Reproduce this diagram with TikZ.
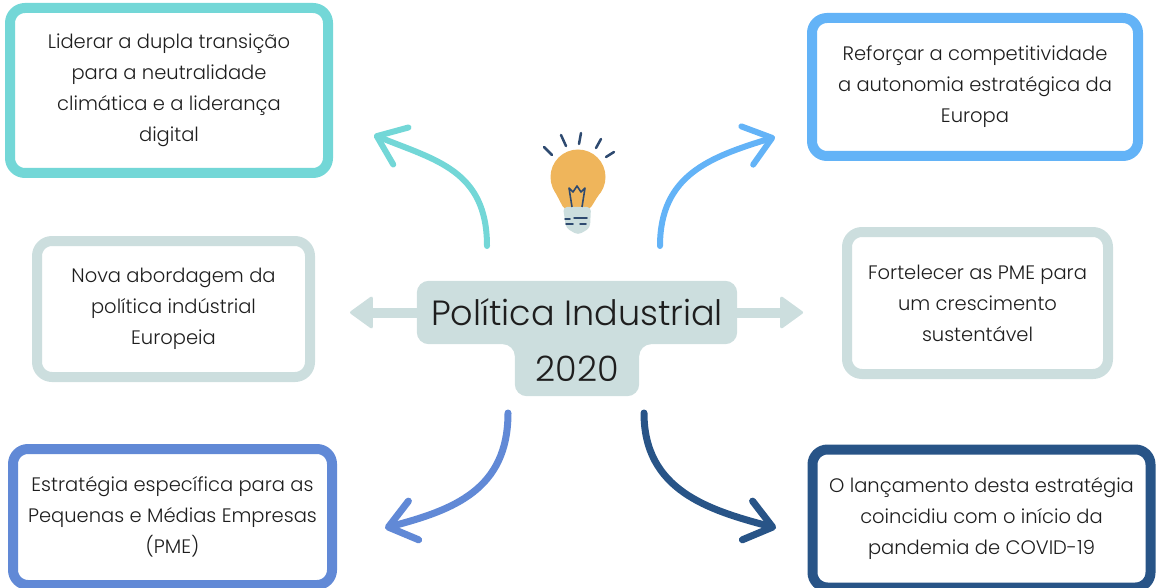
\documentclass[tikz,border=0pt]{standalone}
\usepackage{fontspec}
\setmainfont{Poppins Light}
\usetikzlibrary{arrows.meta,backgrounds}
\definecolor{tealc}{HTML}{73D7D7}
\definecolor{skyc}{HTML}{63B3F7}
\definecolor{grayc}{HTML}{CCDEDE}
\definecolor{midc}{HTML}{6189D6}
\definecolor{navyc}{HTML}{285487}
\definecolor{bulbc}{HTML}{EFB55B}
\definecolor{rayc}{HTML}{2E4A70}
\definecolor{inkc}{HTML}{1E1E1E}
\begin{document}
\begin{tikzpicture}[x=1pt,y=-1pt,
  card/.style={draw,line width=10pt,rounded corners=15pt,fill=white,align=center,
    text=inkc,inner sep=0pt,font=\fontsize{19.5}{31}\selectfont},
  hubtext/.style={align=center,text=inkc,inner sep=0pt,font=\fontsize{35}{55}\selectfont},
  curvy/.style={line width=6pt,line cap=round,
    -{Straight Barb[length=26pt,width=40pt,round]}},
  flat/.style={grayc,line width=10pt,
    -{Triangle[length=24pt,width=34pt,round,line width=3pt]}}]
\useasboundingbox (0,0) rectangle (1156,588);
% centre
\node[hubtext,minimum width=320pt,minimum height=63pt] (hub) at (577,312.5) {Política Industrial};
\node[hubtext,minimum width=124pt,minimum height=54pt] (year) at (577,369) {2020};
\begin{scope}[on background layer]
\fill[grayc,rounded corners=12pt] (hub.north west) -- (hub.north east) -- (hub.south east)
  -- (hub.south -| year.east) -- (year.south east) -- (year.south west)
  -- (hub.south -| year.west) -- (hub.south west) -- cycle;
\end{scope}
% boxes
\node[card,draw=tealc,minimum width=318pt,minimum height=165pt] (lead) at (169,90.5)
  {Liderar a dupla transição\\para a neutralidade\\climática e a liderança\\digital};
\node[card,draw=skyc,minimum width=326pt,minimum height=138pt] (compete) at (975,87)
  {Reforçar a competitividade\\a autonomia estratégica da\\Europa};
\node[card,draw=grayc,minimum width=273pt,minimum height=136pt] (approach) at (173.5,309)
  {Nova abordagem da\\política indústrial\\Europeia};
\node[card,draw=grayc,minimum width=261pt,minimum height=142pt] (smes) at (977.5,303)
  {Fortelecer as PME para\\um crescimento\\sustentável};
\node[card,draw=midc,minimum width=319pt,minimum height=136pt] (strategy) at (172.5,517)
  {Estratégia específica para as\\Pequenas e Médias Empresas\\(PME)};
\node[card,draw=navyc,minimum width=338pt,minimum height=138pt] (launch) at (981.5,518.5)
  {O lançamento desta estratégia\\coincidiu com o início da\\pandemia de COVID-19};
% straight arrows
\coordinate (lTip) at (350,312.5);
\coordinate (rTip) at (803,312.5);
\draw[flat] (hub.west) -- (lTip);
\draw[flat] (hub.east) -- (rTip);
% curved arrows
\coordinate (tlFoot) at (487,246);
\coordinate (tlHead) at (374,135);
\coordinate (trFoot) at (660,246);
\coordinate (trHead) at (775,137);
\coordinate (blFoot) at (508,413);
\coordinate (blHead) at (385,528);
\coordinate (brFoot) at (644,413);
\coordinate (brHead) at (776,528);
\draw[curvy,tealc] (tlFoot) .. controls (487,170) and (435,160) .. (tlHead);
\draw[curvy,skyc] (trFoot) .. controls (660,175) and (710,157) .. (trHead);
\draw[curvy,midc,line width=7pt] (blFoot) .. controls (508,490) and (453,510) .. (blHead);
\draw[curvy,navyc,line width=7pt] (brFoot) .. controls (644,490) and (708,510) .. (brHead);
% bulb
\draw[rayc,line width=2.5pt,line cap=round] (544,147) -- (552,155) (561,135) -- (566,146)
  (581,133) -- (579,144) (601,139) -- (596,148) (614,152) -- (606,157);
\fill[bulbc] (578,177) circle[radius=27.5pt];
\fill[bulbc,rounded corners=3pt] (552,186) -- (604,186) -- (590,209) -- (564,209) -- cycle;
\fill[grayc,rounded corners=4pt] (563,207) -- (591,207) -- (590,228) -- (578,235) -- (566,228) -- cycle;
\draw[rayc,line width=1.6pt,line join=round] (572,207) -- (569,188) -- (573,192) -- (577,186)
  -- (581,192) -- (585,188) -- (582,207);
\draw[rayc,line width=1.5pt,line cap=round] (565,219) -- (570,219) (574,218) -- (587,218)
  (566,224) -- (573,224) (580,224) -- (586,224);
\end{tikzpicture}
\end{document}
